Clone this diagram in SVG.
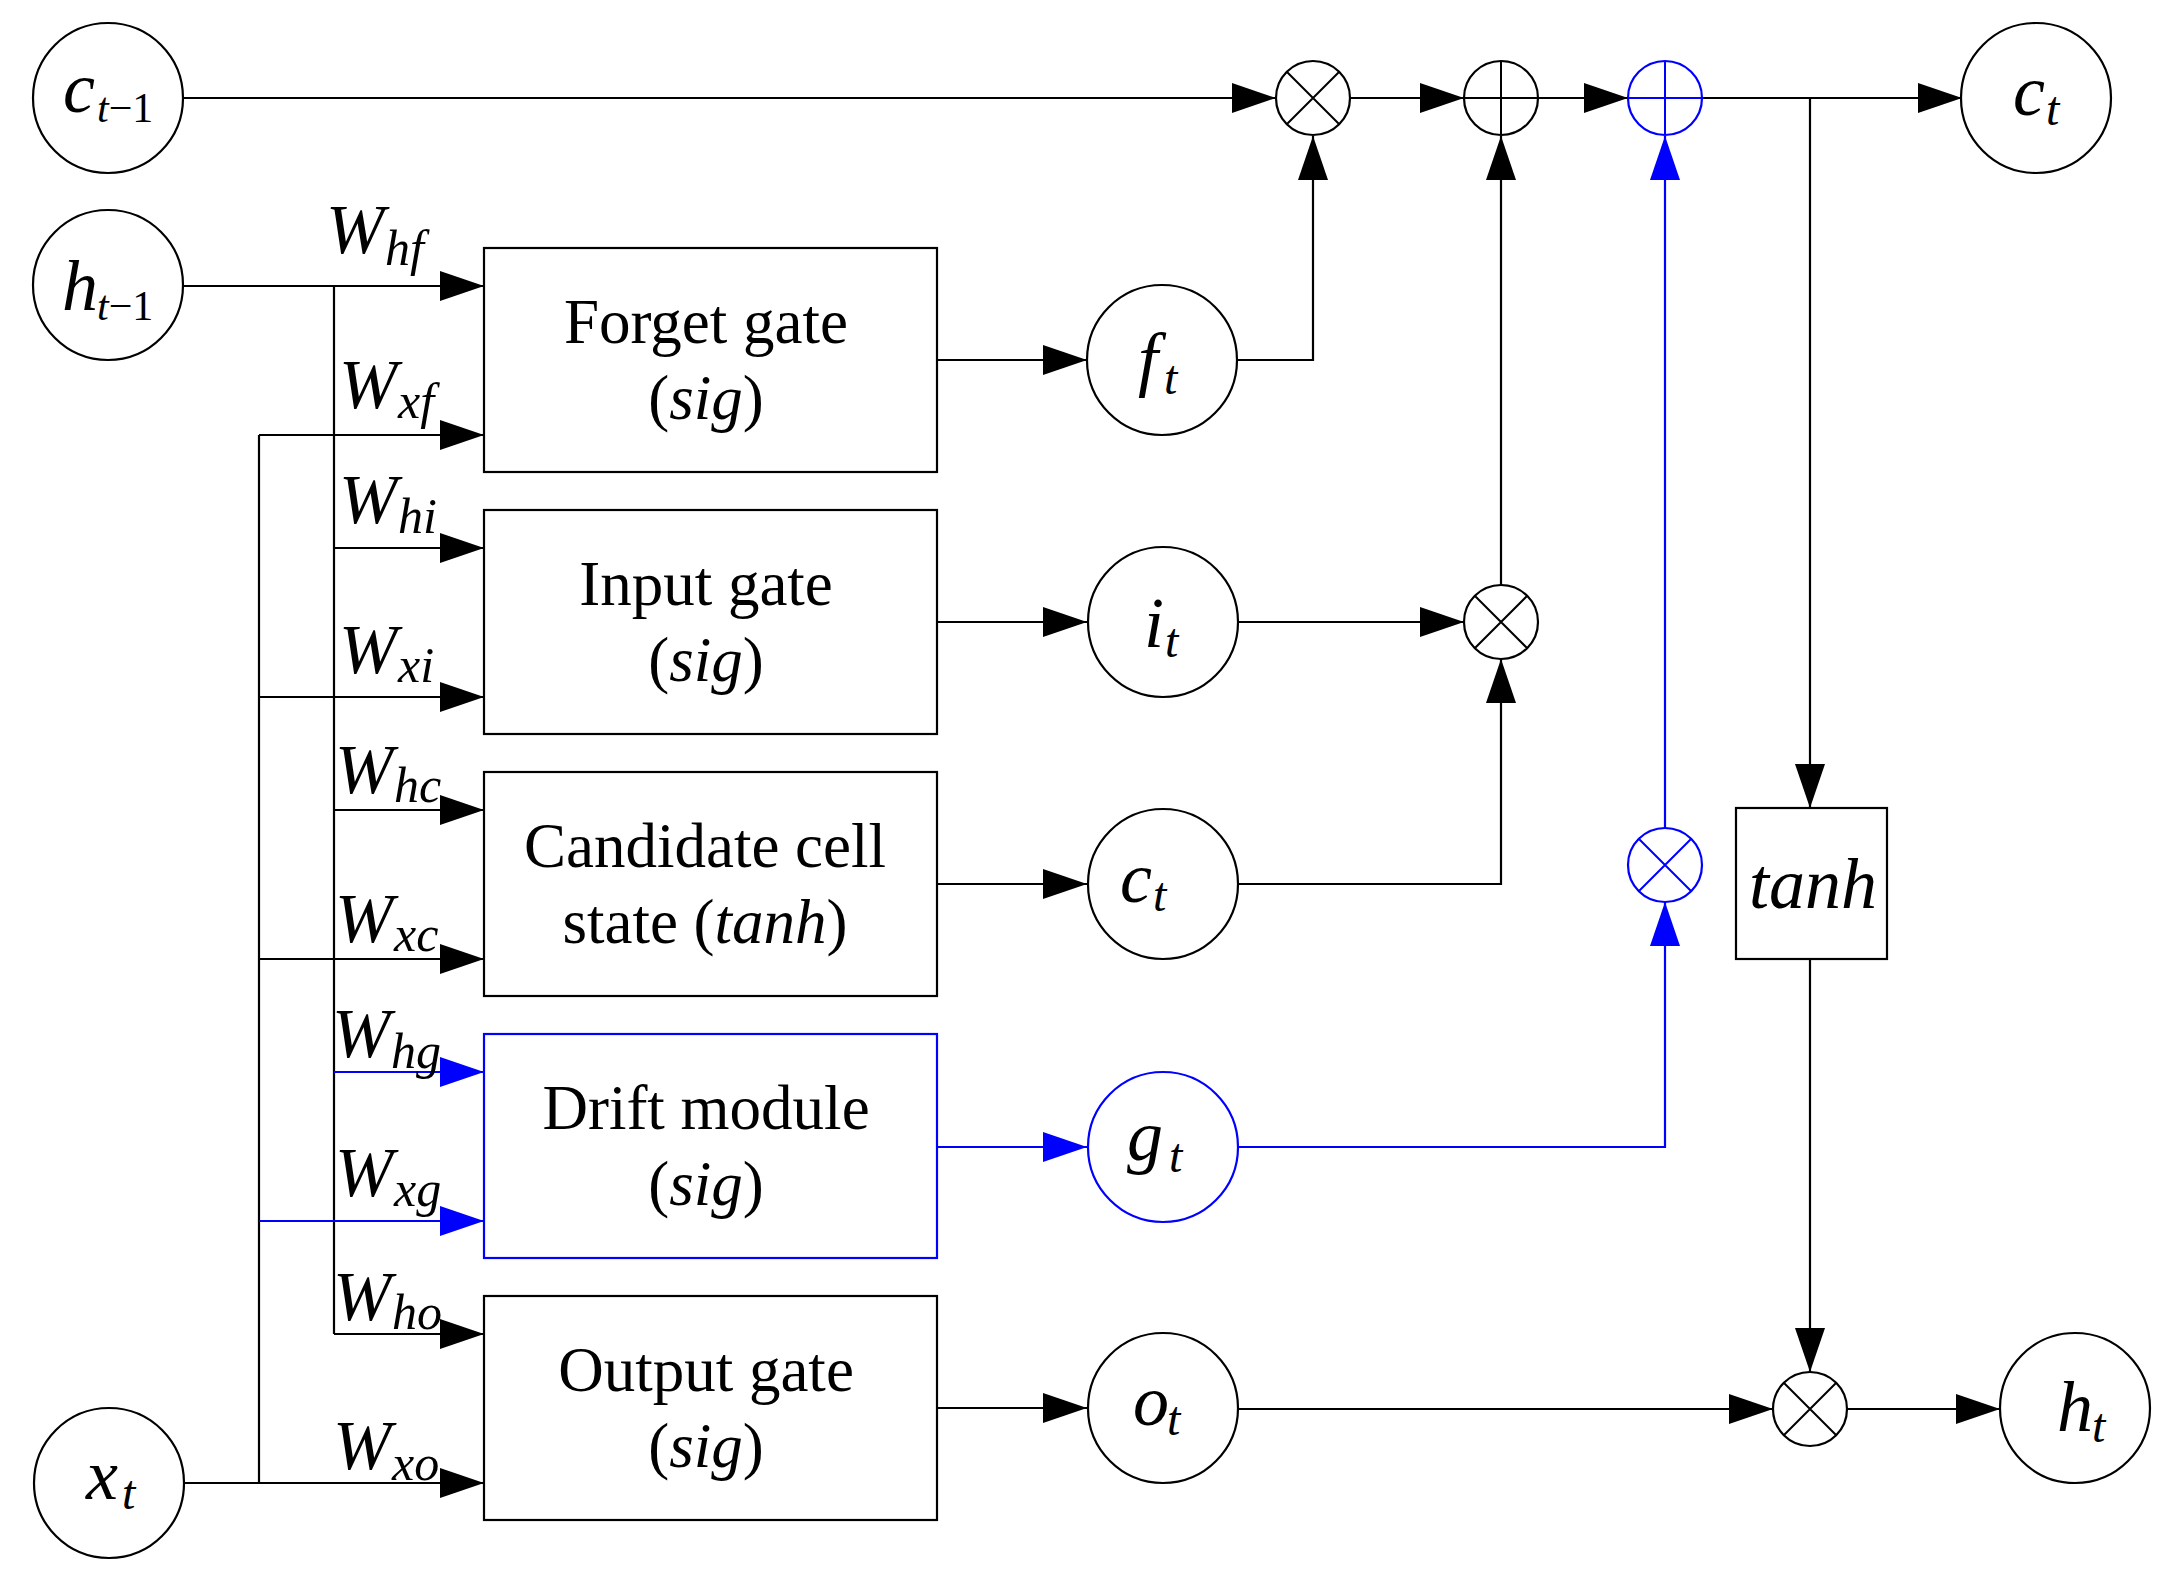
<svg xmlns="http://www.w3.org/2000/svg" width="2171" height="1582" viewBox="0 0 2171 1582">
<defs>
<marker id="ab" markerUnits="userSpaceOnUse" markerWidth="44" markerHeight="30" refX="44" refY="15" orient="auto" viewBox="0 0 44 30"><path d="M0,0 L44,15 L0,30 z" fill="#000"/></marker>
<marker id="au" markerUnits="userSpaceOnUse" markerWidth="44" markerHeight="30" refX="44" refY="15" orient="auto" viewBox="0 0 44 30"><path d="M0,0 L44,15 L0,30 z" fill="#0000ff"/></marker>
</defs>
<style>
.n{fill:#fff;stroke:#000;stroke-width:2.2}
.nb{fill:#fff;stroke:#0000ff;stroke-width:2.2}
.s{fill:none;stroke:#000;stroke-width:2}
.sb{fill:none;stroke:#0000ff;stroke-width:2}
.c{fill:none;stroke:#000;stroke-width:2.2}
.a{marker-end:url(#ab)}
.cb{fill:none;stroke:#0000ff;stroke-width:2.2}
.ab{marker-end:url(#au)}
text{font-family:"Liberation Serif","Times New Roman",serif;fill:#000}
.bt{font-size:63px;text-anchor:middle}
.i{font-style:italic}
.m{font-size:72px;font-style:italic}
.sub{font-size:48px;font-style:italic}
.w{font-size:70px;font-style:italic}
.ws{font-size:50px;font-style:italic}
</style>
<rect width="2171" height="1582" fill="#fff"/>
<g id="connectors">
<line class="c a" x1="184" y1="98" x2="1276" y2="98"/>
<line class="c a" x1="1350" y1="98" x2="1464" y2="98"/>
<line class="c a" x1="1538" y1="98" x2="1628" y2="98"/>
<line class="c a" x1="1702" y1="98" x2="1962" y2="98"/>
<line class="c a" x1="1810" y1="98" x2="1810" y2="808"/>
<line class="c a" x1="1810" y1="959" x2="1810" y2="1372"/>
<line class="c a" x1="1238" y1="1409" x2="1773" y2="1409"/>
<line class="c a" x1="1848" y1="1409" x2="2000" y2="1409"/>
<polyline class="c a" points="1237,360 1313,360 1313,136"/>
<line class="c a" x1="1238" y1="622" x2="1464" y2="622"/>
<polyline class="c a" points="1238,884 1501,884 1501,659"/>
<line class="c a" x1="1501" y1="585" x2="1501" y2="136"/>
<line class="c a" x1="937" y1="360" x2="1087" y2="360"/>
<line class="c a" x1="937" y1="622" x2="1087" y2="622"/>
<line class="c a" x1="937" y1="884" x2="1087" y2="884"/>
<line class="c a" x1="937" y1="1408" x2="1087" y2="1408"/>
<line class="cb ab" x1="937" y1="1147" x2="1087" y2="1147"/>
<polyline class="cb ab" points="1238,1147 1665,1147 1665,902"/>
<line class="cb ab" x1="1665" y1="828" x2="1665" y2="136"/>
<line class="c a" x1="184" y1="286" x2="484" y2="286"/>
<line class="c" x1="334" y1="286" x2="334" y2="1334"/>
<line class="c a" x1="334" y1="548" x2="484" y2="548"/>
<line class="c a" x1="334" y1="810" x2="484" y2="810"/>
<line class="cb ab" x1="334" y1="1072" x2="484" y2="1072"/>
<line class="c a" x1="334" y1="1334" x2="484" y2="1334"/>
<line class="c a" x1="184" y1="1483" x2="484" y2="1483"/>
<line class="c" x1="259" y1="435" x2="259" y2="1483"/>
<line class="c a" x1="259" y1="435" x2="484" y2="435"/>
<line class="c a" x1="259" y1="697" x2="484" y2="697"/>
<line class="c a" x1="259" y1="959" x2="484" y2="959"/>
<line class="cb ab" x1="259" y1="1221" x2="484" y2="1221"/>
</g>
<g id="weights">
<text class="w" x="326" y="253">W</text><text class="ws" x="385" y="265">hf</text>
<text class="w" x="339" y="408">W</text><text class="ws" x="398" y="418">xf</text>
<text class="w" x="339" y="523">W</text><text class="ws" x="398" y="533">hi</text>
<text class="w" x="339" y="673">W</text><text class="ws" x="398" y="682">xi</text>
<text class="w" x="335" y="793">W</text><text class="ws" x="394" y="802">hc</text>
<text class="w" x="335" y="942">W</text><text class="ws" x="394" y="951">xc</text>
<text class="w" x="332" y="1057">W</text><text class="ws" x="391" y="1068">hg</text>
<text class="w" x="335" y="1196">W</text><text class="ws" x="394" y="1206">xg</text>
<text class="w" x="333" y="1320">W</text><text class="ws" x="392" y="1329">ho</text>
<text class="w" x="333" y="1469">W</text><text class="ws" x="392" y="1480">xo</text>
</g>
<g id="c_prev"><circle class="n" cx="108" cy="98" r="75"/><text class="m" x="63" y="112">c</text><text x="97" y="122" font-size="42"><tspan font-style="italic">t</tspan>−1</text></g>
<g id="h_prev"><circle class="n" cx="108" cy="285" r="75"/><text class="m" x="62" y="310">h</text><text x="97" y="320" font-size="42"><tspan font-style="italic">t</tspan>−1</text></g>
<g id="x_t"><circle class="n" cx="109" cy="1483" r="75"/><text class="m" x="86" y="1499">x</text><text class="sub" x="122" y="1509">t</text></g>
<g id="forget_gate"><rect class="n" x="484" y="248" width="453" height="224"/><text class="bt" x="706" y="343">Forget gate</text><text class="bt" x="706" y="419">(<tspan class="i">sig</tspan>)</text></g>
<g id="input_gate"><rect class="n" x="484" y="510" width="453" height="224"/><text class="bt" x="706" y="605">Input gate</text><text class="bt" x="706" y="681">(<tspan class="i">sig</tspan>)</text></g>
<g id="candidate"><rect class="n" x="484" y="772" width="453" height="224"/><text class="bt" x="705" y="867">Candidate cell</text><text class="bt" x="705" y="943">state (<tspan class="i">tanh</tspan>)</text></g>
<g id="drift_module"><rect class="nb" x="484" y="1034" width="453" height="224"/><text class="bt" x="706" y="1129">Drift module</text><text class="bt" x="706" y="1205">(<tspan class="i">sig</tspan>)</text></g>
<g id="output_gate"><rect class="n" x="484" y="1296" width="453" height="224"/><text class="bt" x="706" y="1391">Output gate</text><text class="bt" x="706" y="1467">(<tspan class="i">sig</tspan>)</text></g>
<g id="f_t"><circle class="n" cx="1162" cy="360" r="75"/><text class="m" x="1138" y="383">f</text><text class="sub" x="1164" y="394">t</text></g>
<g id="i_t"><circle class="n" cx="1163" cy="622" r="75"/><text class="m" x="1144" y="647">i</text><text class="sub" x="1165" y="657">t</text></g>
<g id="c_tilde"><circle class="n" cx="1163" cy="884" r="75"/><text class="m" x="1120" y="902">c</text><text class="sub" x="1153" y="911">t</text></g>
<g id="g_t"><circle class="nb" cx="1163" cy="1147" r="75"/><text class="m" x="1127" y="1160">g</text><text class="sub" x="1169" y="1172">t</text></g>
<g id="o_t"><circle class="n" cx="1163" cy="1408" r="75"/><text class="m" x="1133" y="1425">o</text><text class="sub" x="1167" y="1435">t</text></g>
<g id="mul_f"><circle class="n" cx="1313" cy="98" r="37"/><path class="s" d="M1287,72 L1339,124 M1339,72 L1287,124"/></g>
<g id="add_i"><circle class="n" cx="1501" cy="98" r="37"/><path class="s" d="M1501,61 V135 M1464,98 H1538"/></g>
<g id="add_g"><circle class="nb" cx="1665" cy="98" r="37"/><path class="sb" d="M1665,61 V135 M1628,98 H1702"/></g>
<g id="mul_i"><circle class="n" cx="1501" cy="622" r="37"/><path class="s" d="M1475,596 L1527,648 M1527,596 L1475,648"/></g>
<g id="mul_g"><circle class="nb" cx="1665" cy="865" r="37"/><path class="sb" d="M1639,839 L1691,891 M1691,839 L1639,891"/></g>
<g id="tanh"><rect class="n" x="1736" y="808" width="151" height="151"/><text class="m" x="1813" y="908" text-anchor="middle">tanh</text></g>
<g id="mul_o"><circle class="n" cx="1810" cy="1409" r="37"/><path class="s" d="M1784,1383 L1836,1435 M1836,1383 L1784,1435"/></g>
<g id="c_t"><circle class="n" cx="2036" cy="98" r="75"/><text class="m" x="2013" y="115">c</text><text class="sub" x="2046" y="125">t</text></g>
<g id="h_t"><circle class="n" cx="2075" cy="1408" r="75"/><text class="m" x="2057" y="1431">h</text><text class="sub" x="2092" y="1442">t</text></g>
</svg>
